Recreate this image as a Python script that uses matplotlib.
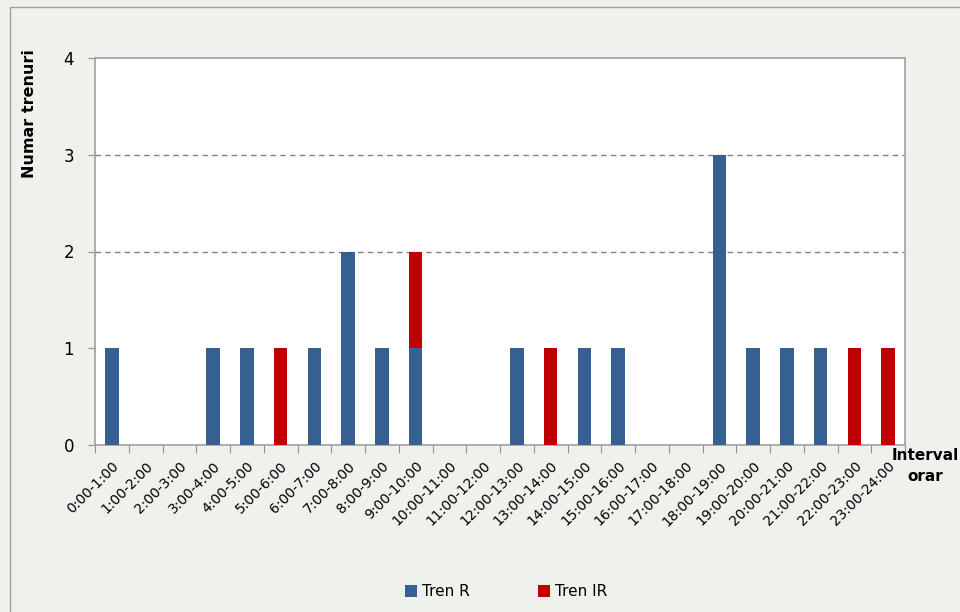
import matplotlib
matplotlib.use("Agg")
import matplotlib.pyplot as plt
from matplotlib.patches import Rectangle
import numpy as np

# hourly intervals
intervals = ["%d:00-%d:00" % (h, h + 1) for h in range(24)]
tren_r = [1, 0, 0, 1, 1, 0, 1, 2, 1, 1, 0, 0, 1, 0, 1, 1, 0, 0, 3, 1, 1, 1, 0, 0]
tren_ir = [0, 0, 0, 0, 0, 1, 0, 0, 0, 1, 0, 0, 0, 1, 0, 0, 0, 0, 0, 0, 0, 0, 1, 1]
y_ticks = [0, 1, 2, 3, 4]

blue = "#376092"
red = "#C00000"
bg = "#EFF1EC"

fig = plt.figure(figsize=(9.6, 6.12), dpi=100)
fig.patch.set_facecolor(bg)
# outer chart border
fig.patches.append(Rectangle((10 / 960, -0.01), 1.0, 1 - 7 / 612 + 0.01,
                             transform=fig.transFigure, fill=False,
                             edgecolor="#A0A0A0", linewidth=1))

ax = fig.add_axes([95 / 960, 1 - 445 / 612, 810 / 960, 387 / 612])
ax.set_facecolor("white")

x = np.arange(len(intervals))
ax.bar(x, tren_r, width=0.4, color=blue, label="Tren R", zorder=3)
ax.bar(x, tren_ir, width=0.4, bottom=tren_r, color=red, label="Tren IR", zorder=3)

ax.set_xlim(-0.5, len(intervals) - 0.5)
ax.set_ylim(0, 4)
ax.set_yticks(y_ticks)
ax.set_yticklabels([str(v) for v in y_ticks], fontsize=12)

# grid lines at 2 and 3
for v in [2, 3]:
    ax.axhline(v, color="#808080", linestyle=(0, (4, 3)), linewidth=1, zorder=1)

# category ticks between bars, labels centred under bars
ax.set_xticks(np.arange(len(intervals) + 1) - 0.5)
ax.set_xticklabels([])
ax.tick_params(axis="x", direction="out", length=6, color="#909090")
ax.tick_params(axis="y", direction="out", length=5, color="#909090", pad=10)
ax.set_xticks(x, minor=True)
ax.set_xticklabels(intervals, minor=True, rotation=45, ha="right",
                   rotation_mode="anchor", fontsize=10)
ax.tick_params(axis="x", which="minor", length=0, pad=10)

for s in ["left", "right", "top", "bottom"]:
    ax.spines[s].set_color("#A0A0A0")
    ax.spines[s].set_linewidth(1.2)

fig.text(30 / 960, 1 - 114 / 612, "Numar trenuri", rotation=90, ha="center",
         va="center", fontsize=11.5, fontweight="bold")
fig.text(925 / 960, 1 - 466 / 612, "Interval\norar", ha="center", va="center",
         fontsize=11, fontweight="bold", linespacing=1.5)

fig.legend(loc="center", bbox_to_anchor=(506 / 960, 1 - 592 / 612), ncol=2,
           frameon=False, fontsize=11, handlelength=0.8, handleheight=0.8,
           columnspacing=4.5, handletextpad=0.3)

fig.savefig("out.png", dpi=100, facecolor=fig.get_facecolor())
